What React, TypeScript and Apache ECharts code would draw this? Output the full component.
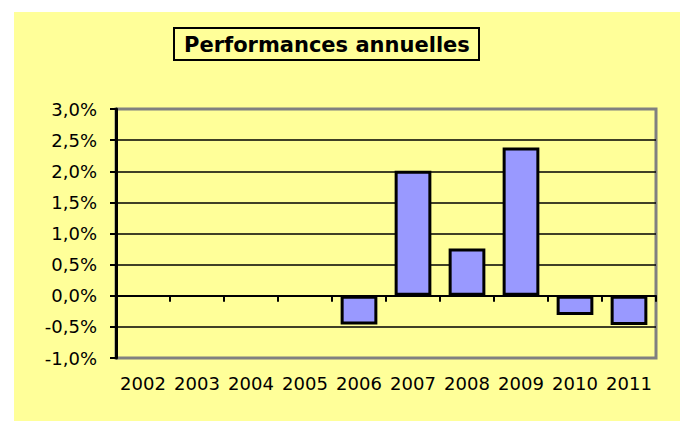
import React, { useEffect, useRef } from "react";
import * as echarts from "echarts";

const years = ["2002", "2003", "2004", "2005", "2006", "2007", "2008", "2009", "2010", "2011"];
const performances: (number | null)[] = [null, null, null, null, -0.46, 2.01, 0.76, 2.38, -0.31, -0.47];
const yMin = -1;
const yMax = 3;
const yStep = 0.5;
const titleText = "Performances annuelles";

const FONT = '"DejaVu Sans", Verdana, sans-serif';

export default function App() {
  const ref = useRef<HTMLDivElement>(null);
  useEffect(() => {
    if (!ref.current) return;
    const chart = echarts.init(ref.current, undefined, { renderer: "svg" });
    const nLines = Math.round((yMax - yMin) / yStep) + 1;
    const splitColors = Array.from({ length: nLines }, (_, i) =>
      i === 0 || i === nLines - 1 ? "transparent" : "#000"
    );
    chart.setOption({
      animation: false,
      backgroundColor: "#ffffff",
      graphic: [
        {
          type: "rect",
          z: -10,
          shape: { x: 14, y: 12, width: 666, height: 409 },
          style: { fill: "#FFFF99" },
          silent: true,
        },
      ],
      title: {
        text: titleText,
        left: 174,
        top: 28,
        borderColor: "#000",
        borderWidth: 2,
        padding: [6, 9, 5, 10],
        textStyle: { fontFamily: FONT, fontWeight: "bold", fontSize: 21, color: "#000" },
      },
      grid: {
        left: 116,
        top: 109,
        right: 24,
        bottom: 63,
        show: true,
        backgroundColor: "transparent",
        borderColor: "#808080",
        borderWidth: 3,
      },
      xAxis: [
        {
          type: "category",
          data: years,
          position: "bottom",
          axisLine: { show: false, onZero: false },
          axisTick: { show: false },
          axisLabel: { fontFamily: FONT, fontSize: 18, color: "#000", margin: 16, interval: 0 },
        },
        {
          type: "category",
          data: years,
          position: "bottom",
          axisLine: { show: true, onZero: true, lineStyle: { color: "#000", width: 2 } },
          axisTick: { show: true, length: 6, lineStyle: { color: "#000", width: 2 } },
          axisLabel: { show: false },
          z: 4,
        },
      ],
      yAxis: {
        type: "value",
        min: yMin,
        max: yMax,
        interval: yStep,
        z: 3,
        axisLine: { show: true, lineStyle: { color: "#000", width: 3 } },
        axisTick: { show: true, length: 6, lineStyle: { color: "#000", width: 2 } },
        axisLabel: {
          fontFamily: FONT,
          fontSize: 18,
          color: "#000",
          margin: 19,
          formatter: (v: number) => v.toFixed(1).replace(".", ",") + "%",
        },
        splitLine: { show: true, lineStyle: { color: splitColors, width: 1.5 } },
      },
      series: [
        {
          type: "bar",
          data: performances,
          xAxisIndex: 0,
          barWidth: "68%",
          z: 5,
          itemStyle: { color: "#9999FF", borderColor: "#000", borderWidth: 3 },
        },
      ],
    });
    return () => chart.dispose();
  }, []);
  return (
    <div
      ref={ref}
      style={{ position: "fixed", left: 0, top: 0, width: 680, height: 421 }}
    />
  );
}
